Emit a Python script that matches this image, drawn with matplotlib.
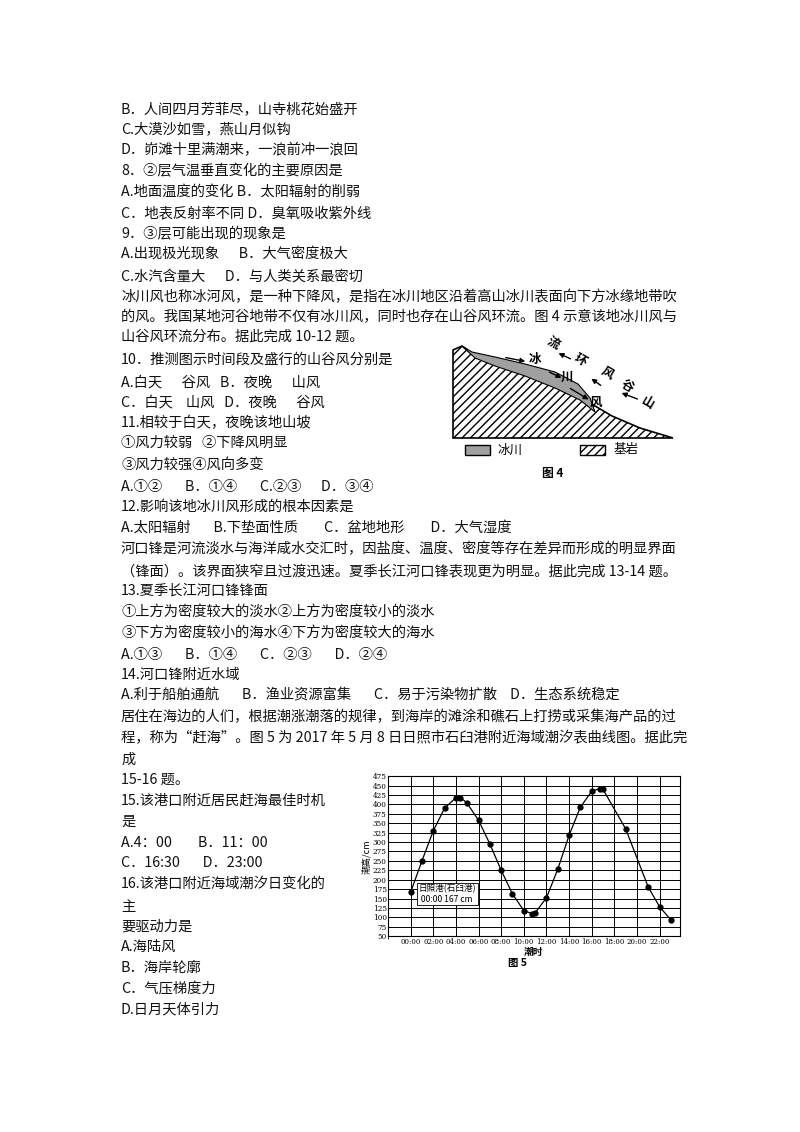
import matplotlib
matplotlib.use("Agg")
import matplotlib.pyplot as plt
from matplotlib.patches import Polygon, Rectangle, FancyArrowPatch

plt.rcParams["font.family"] = ["Noto Sans CJK SC", "DejaVu Sans"]

# page text lines: (y pixel, text)
lines = [
    (109, "B．人间四月芳菲尽，山寺桃花始盛开"),
    (129, "C.大漠沙如雪，燕山月似钩"),
    (150, "D．峁滩十里满潮来，一浪前冲一浪回"),
    (171, "8．②层气温垂直变化的主要原因是"),
    (192, "A.地面温度的变化 B．太阳辐射的削弱"),
    (213, "C．地表反射率不同 D．臭氧吸收紫外线"),
    (234, "9．③层可能出现的现象是"),
    (254, "A.出现极光现象      B．大气密度极大"),
    (277, "C.水汽含量大      D．与人类关系最密切"),
    (297, "冰川风也称冰河风，是一种下降风，是指在冰川地区沿着高山冰川表面向下方冰缘地带吹"),
    (317, "的风。我国某地河谷地带不仅有冰川风，同时也存在山谷风环流。图 4 示意该地冰川风与"),
    (337, "山谷风环流分布。据此完成 10-12 题。"),
    (360, "10．推测图示时间段及盛行的山谷风分别是"),
    (382, "A.白天      谷风   B．夜晚      山风"),
    (402, "C．白天    山风   D．夜晚      谷风"),
    (423, "11.相较于白天，夜晚该地山坡"),
    (443, "①风力较弱   ②下降风明显"),
    (465, "③风力较强④风向多变"),
    (487, "A.①②       B．①④       C.②③      D．③④"),
    (507, "12.影响该地冰川风形成的根本因素是"),
    (528, "A.太阳辐射       B.下垫面性质        C．盆地地形        D．大气湿度"),
    (549, "河口锋是河流淡水与海洋咸水交汇时，因盐度、温度、密度等存在差异而形成的明显界面"),
    (571, "（锋面）。该界面狭窄且过渡迅速。夏季长江河口锋表现更为明显。据此完成 13-14 题。"),
    (591, "13.夏季长江河口锋锋面"),
    (612, "①上方为密度较大的淡水②上方为密度较小的淡水"),
    (633, "③下方为密度较小的海水④下方为密度较大的海水"),
    (655, "A.①③       B．①④       C．②③       D．②④"),
    (675, "14.河口锋附近水域"),
    (696, "A.利于船舶通航       B．渔业资源富集       C．易于污染物扩散    D．生态系统稳定"),
    (717, "居住在海边的人们，根据潮涨潮落的规律，到海岸的滩涂和礁石上打捞或采集海产品的过"),
    (738, "程，称为“赶海”。图 5 为 2017 年 5 月 8 日日照市石臼港附近海域潮汐表曲线图。据此完"),
    (760, "成"),
    (780, "15-16 题。"),
    (800, "15.该港口附近居民赶海最佳时机"),
    (822, "是"),
    (843, "A.4：00        B．11：00"),
    (863, "C．16:30       D．23:00"),
    (884, "16.该港口附近海域潮汐日变化的"),
    (907, "主"),
    (927, "要驱动力是"),
    (947, "A.海陆风"),
    (968, "B．海岸轮廓"),
    (989, "C．气压梯度力"),
    (1009, "D.日月天体引力"),
]

# glacier diagram outlines (page pixels)
rock_x = [453, 453, 462, 475, 500, 540, 570, 590, 612, 640, 673, 453]
rock_y = [438, 350, 346, 356, 365, 378, 390, 403, 416, 428, 438, 438]
ice_x = [462, 472, 495, 525, 555, 578, 590, 595, 580, 555, 525, 495, 475]
ice_y = [346, 352, 357, 364, 372, 384, 398, 412, 400, 388, 376, 366, 358]

# tide data (hour, cm)
tide_hour = [0, 1, 2, 3, 4, 4.4, 4.95, 6, 7, 8, 9, 10, 10.7, 11, 12, 13,
             14, 15, 16, 16.7, 17, 19, 21, 22, 23]
tide_cm = [167, 250, 330, 390, 418, 418, 405, 358, 295, 225, 162, 118, 110,
           112, 152, 228, 318, 393, 435, 442, 440, 335, 180, 128, 93]
hour_ticks = list(range(0, 23, 2))
hour_labels = ["%02d:00" % h for h in hour_ticks]
cm_ticks = list(range(50, 476, 25))

fig = plt.figure(figsize=(8, 11.32), dpi=100)
page = fig.add_axes([0, 0, 1, 1])
page.set_xlim(0, 800)
page.set_ylim(1132, 0)
page.axis("off")

for y, s in lines:
    page.text(121, y, s, fontsize=10.3, va="center", ha="left", color="#111111")

# figure 4
page.add_patch(Polygon(list(zip(rock_x, rock_y)), closed=True, facecolor="white",
                       edgecolor="black", hatch="////", lw=1.2))
page.add_patch(Polygon(list(zip(ice_x, ice_y)), closed=True, facecolor="#a0a0a0",
                       edgecolor="black", lw=0.8))
for (x0, y0, x1, y1) in [(503, 357, 528, 362), (547, 371, 564, 379),
                         (568, 387, 591, 401), (573, 360, 556, 352),
                         (603, 387, 589, 377), (640, 400, 619, 392)]:
    page.add_patch(FancyArrowPatch((x0, y0), (x1, y1), arrowstyle="-|>",
                                   mutation_scale=7, color="black", lw=1))
for x, y, s, r in [(535, 360, "冰", 0), (567, 377, "川", 0), (596, 402, "风", 0),
                   (553, 343, "流", -30), (580, 360, "环", -30),
                   (607, 373, "风", -30), (627, 386, "谷", -30),
                   (648, 403, "山", -30)]:
    page.text(x, y, s, fontsize=9, ha="center", va="center", rotation=r,
              fontweight="bold")
page.add_patch(Rectangle((465, 445), 25, 10, facecolor="#a0a0a0", edgecolor="black"))
page.text(497, 450, "冰川", fontsize=9, va="center")
page.add_patch(Rectangle((580, 445), 25, 10, facecolor="white", edgecolor="black",
                         hatch="////"))
page.text(613, 450, "基岩", fontsize=9, va="center")
page.text(553, 473, "图 4", fontsize=8.5, ha="center", va="center", fontweight="bold")

# figure 5
ax = fig.add_axes([0.485, 0.173, 0.365, 0.1413])
ax.plot(tide_hour, tide_cm, color="black", lw=0.9, marker="o", ms=3.5)
ax.set_xlim(-2, 23.8)
ax.set_ylim(50, 475)
ax.set_xticks(hour_ticks)
ax.set_xticklabels(hour_labels, fontsize=5, family="DejaVu Serif")
ax.set_xticks(list(range(-2, 24, 2)), minor=True)
ax.set_yticks(cm_ticks)
ax.set_yticklabels([str(v) for v in cm_ticks], fontsize=5.2, family="DejaVu Serif")
ax.grid(True, which="both", color="black", lw=0.7)
ax.tick_params(length=0, pad=1)
ax.set_ylabel("潮高/cm", fontsize=6.5, labelpad=1)
ax.set_xlabel("潮时", fontsize=7, labelpad=1, fontweight="bold")
ax.text(0.7, 162, "日照港(石臼港)\n 00:00 167 cm", fontsize=6.2, va="center",
        bbox=dict(boxstyle="square,pad=0.2", fc="white", ec="black", lw=0.6))
page.text(518, 963, "图 5", fontsize=7.5, ha="center", va="center", fontweight="bold")

fig.savefig("out.png", dpi=100)
